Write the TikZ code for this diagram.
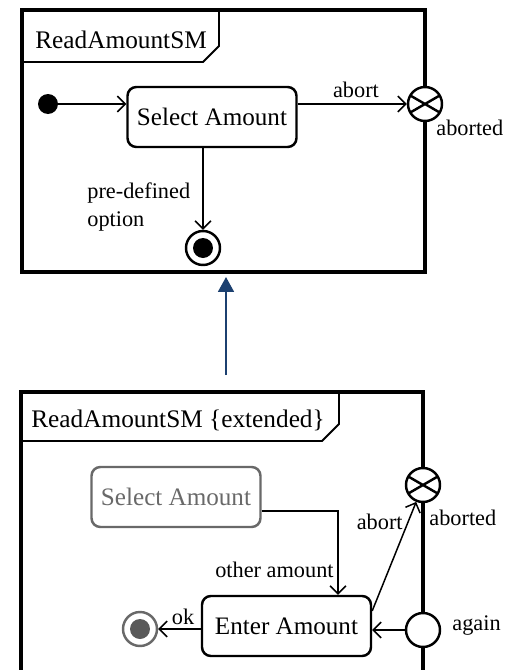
\documentclass[tikz,border=0pt]{standalone}
\usepackage{fontspec}
\setmainfont{Liberation Serif}
\usetikzlibrary{arrows.meta,positioning,calc}

\definecolor{linkblue}{RGB}{28,64,112}
\definecolor{greyed}{RGB}{105,105,105}

\tikzset{
	frame/.style={line width=2.3pt},
	tab/.style={line width=1.1pt},
	state/.style={draw,rounded corners=5pt,line width=1.4pt,
		minimum width=3.38cm,minimum height=1.2cm,inner sep=0pt,
		font=\fontsize{14.3}{17}\selectfont},
	lbl/.style={inner sep=0pt,font=\fontsize{12.7}{15.5}\selectfont},
	trans/.style={line width=0.85pt,-{Straight Barb[length=4.5pt,width=9pt,line width=0.85pt]}},
	pseudo/.style={draw,circle,line width=1.4pt,fill=white,minimum size=0.68cm,inner sep=0pt}
}

\begin{document}
\begin{tikzpicture}[x=0.02cm,y=-0.02cm]
		\useasboundingbox (0,0) rectangle (506,670);
		% top machine
		\draw[frame] (22,10) rectangle (425,272);
		\draw[tab] (22,62) -- (203,62) -- (219,46) -- (219,10);
		\node[anchor=west,inner sep=0pt,font=\fontsize{14.4}{17}\selectfont] (titleA) at (35,40) {ReadAmountSM};
		\node[circle,fill=black,minimum size=0.4cm,inner sep=0pt] (init) at (48,104) {};
		\node[state] (selA) at (212,117) {Select Amount};
		\node[pseudo] (abrtA) at (425,104) {};
		\draw[line width=1.4pt] ($(abrtA)+(30:17)$) -- ($(abrtA)+(210:17)$)
			($(abrtA)+(150:17)$) -- ($(abrtA)+(330:17)$);
		\node[pseudo] (finA) at (203,248) {};
		\node[circle,fill=black,minimum size=0.4cm,inner sep=0pt] (finAdot) at (203,248) {};
		\draw[trans] (init) -- (init -| selA.west);
		\draw[trans] (selA.east |- abrtA) -- (abrtA);
		\draw[trans] (selA.south -| finA) -- (finA);
		\node[lbl] (abortA) at (356,90) {abort};
		\node[lbl,anchor=west] (abortedA) at (436,128) {aborted};
		\node[lbl,anchor=west,align=left] (predef) at (87,207) {pre-defined\\option};

		% extension arrow
		\coordinate (extfrom) at (226,375);
		\coordinate (extto) at (226,277);
		\draw[linkblue,line width=1.3pt,-{Triangle[length=8.5pt,width=9pt]}] (extfrom) -- (extto);

		% extended machine
		\draw[frame] (21,670) |- (423,392) -- (423,670);
		\draw[tab] (21,441) -- (322,441) -- (339,424) -- (339,392);
		\node[anchor=west,inner sep=0pt,font=\fontsize{14.4}{17}\selectfont] (titleB) at (31,420) {ReadAmountSM \{extended\}};
		\node[state,draw=greyed,text=greyed] (selB) at (176,497) {Select Amount};
		\node[state] (enter) at (286.5,626) {Enter Amount};
		\node[pseudo] (abrtB) at (423,485) {};
		\draw[line width=1.4pt] ($(abrtB)+(30:17)$) -- ($(abrtB)+(210:17)$)
			($(abrtB)+(150:17)$) -- ($(abrtB)+(330:17)$);
		\node[pseudo] (again) at (423,630) {};
		\node[pseudo,draw=greyed] (finB) at (140,629) {};
		\node[circle,fill=greyed!85!black,minimum size=0.4cm,inner sep=0pt] (finBdot) at (140,629) {};
		\coordinate (bend) at (338,511);
		\draw[trans] (bend -| selB.east) -- (bend) -- (bend |- enter.north);
		\draw[trans] (enter.10) -- (abrtB);
		\draw[trans] (again) -- (again -| enter.east);
		\draw[trans] (enter.west |- finB) -- (finB);
		\node[lbl,anchor=east] (other) at (334,570) {other amount};
		\node[lbl,anchor=east] (abortB) at (403,522) {abort};
		\node[lbl,anchor=west] (abortedB) at (429,518) {aborted};
		\node[lbl,anchor=west] (againlbl) at (452,626) {again};
		\node[lbl] (oklbl) at (183,617) {ok};
\end{tikzpicture}
\end{document}
